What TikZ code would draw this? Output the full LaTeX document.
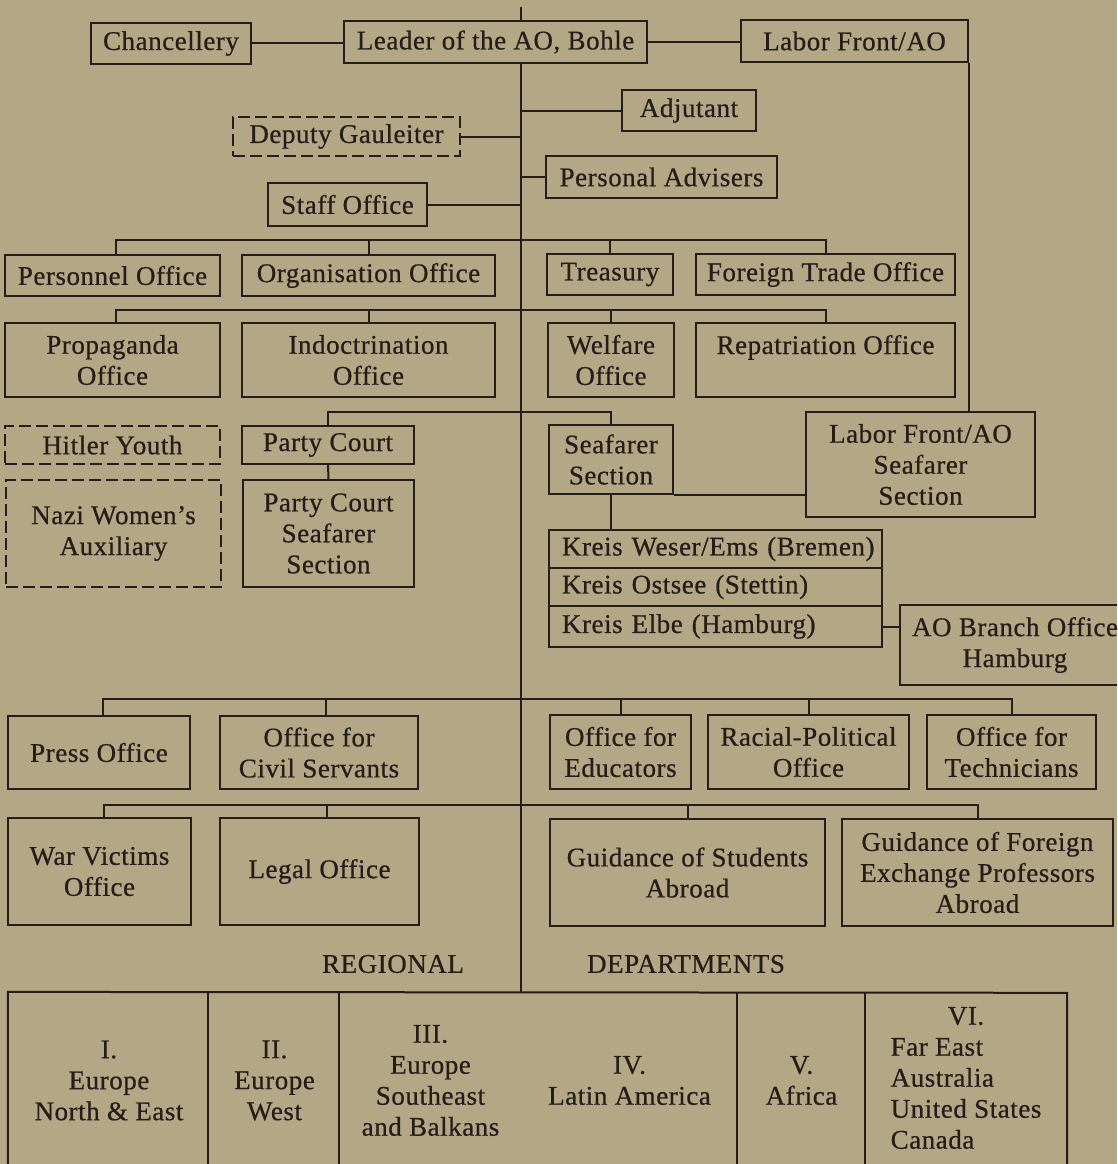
\documentclass[tikz,border=0pt]{standalone}
\usepackage{fontspec}
\setmainfont{Liberation Serif}[LetterSpace=2.0,FakeBold=0.6]
\definecolor{bg}{RGB}{180,167,133}
\definecolor{ink}{RGB}{38,28,24}
\tikzset{
  bx/.style={draw=ink, line width=2.2pt, inner sep=0pt, align=center, text=ink},
  dbx/.style={bx, dash pattern=on 12pt off 5pt},
  kb/.style={bx, text width=307pt, align=left},
  cell/.style={draw=none, inner sep=0pt, text=ink},
  conn/.style={draw=ink, line width=2pt},
  lbl/.style={text=ink, inner sep=0pt},
}
\newcommand\BX[7][]{\node[bx,#1,minimum width={#5-#3},minimum height={#6-#4}] (#2) at ({(#3+#5)/2},{(#4+#6)/2}) {#7};}
\begin{document}
\begin{tikzpicture}[x=1pt,y=-1pt, every node/.style={font=\fontsize{27}{31}\selectfont}]
\path[use as bounding box] (0,0) rectangle (1117,1164);
\fill[bg] (0,0) rectangle (1117,1164);
\clip (0,0) rectangle (1117,1164);

% top rows
\BX{chan}{91}{23}{251}{64}{Chancellery}
\BX{leader}{344}{21}{647}{63}{Leader of the AO, Bohle}
\BX{lf}{741}{20}{968}{62}{Labor Front/AO}
\BX{adj}{622}{90}{756}{131}{Adjutant}
\BX[dbx]{dep}{233}{117}{460}{156}{Deputy Gauleiter}
\BX{pa}{546}{156}{777}{198}{Personal Advisers}
\BX{staff}{268}{183}{427}{226}{Staff Office}

\BX{pers}{5}{255}{220}{296}{Personnel Office}
\BX{org}{242}{255}{495}{296}{Organisation Office}
\BX{tre}{547}{254}{673}{295}{Treasury}
\BX{fto}{696}{254}{955}{295}{Foreign Trade Office}

\BX{prop}{5}{323}{220}{397}{Propaganda\\Office}
\BX{ind}{242}{323}{495}{397}{Indoctrination\\Office}
\BX{wel}{548}{323}{674}{397}{Welfare\\Office}
\BX{rep}{696}{323}{955}{397}{Repatriation Office\\\mbox{}}

\BX[dbx]{hy}{5}{426}{220}{464}{Hitler Youth}
\BX[dbx]{nwa}{6}{480}{221}{587}{Nazi Women's\\Auxiliary}
\BX{pc}{242}{426}{414}{464}{Party Court}
\BX{pcs}{243}{480}{414}{587}{Party Court\\Seafarer\\Section}
\BX{sea}{549}{425}{673}{494}{Seafarer\\Section}
\BX{lfs}{806}{412}{1035}{517}{Labor Front/AO\\Seafarer\\Section}

\BX[kb]{k1}{549}{530}{882}{568}{\mbox{Kreis Weser/Ems (Bremen)}}
\BX[kb]{k2}{549}{568}{882}{606}{\mbox{Kreis Ostsee (Stettin)}}
\BX[kb]{k3}{549}{606}{882}{647}{\mbox{Kreis Elbe (Hamburg)}}
\BX{ao}{900}{605}{1130}{685}{AO Branch Office\\Hamburg}

\BX{press}{8}{716}{190}{789}{Press Office}
\BX{civ}{220}{716}{418}{789}{Office for\\Civil Servants}
\BX{edu}{550}{715}{691}{789}{Office for\\Educators}
\BX{rac}{708}{715}{909}{789}{Racial-Political\\Office}
\BX{tech}{927}{715}{1096}{789}{Office for\\Technicians}

\BX{war}{8}{818}{191}{925}{War Victims\\Office}
\BX{legal}{220}{818}{419}{925}{Legal Office}
\BX{stu}{550}{819}{825}{926}{Guidance of Students\\Abroad}
\BX{gfp}{842}{819}{1113}{926}{Guidance of Foreign\\Exchange Professors\\Abroad}

\node[lbl] (reg) at (393,964) {REGIONAL};
\node[lbl] (dept) at (686,964) {DEPARTMENTS};

% table cells
\BX[cell,align=center]{t1}{9}{993}{209}{1168}{I.\\Europe\\North \& East}
\BX[cell,align=center]{t2}{209}{993}{340}{1168}{II.\\Europe\\West}
\BX[cell,align=center]{t3}{340}{993}{521}{1168}{III.\\Europe\\Southeast\\and Balkans}
\BX[cell,align=center]{t4}{521}{993}{738}{1168}{IV.\\Latin America}
\BX[cell,align=center]{t5}{738}{993}{865}{1168}{V.\\Africa}
\node[cell,minimum width=202,minimum height=175] (t6) at (966,1080.5)
  {\begin{tabular}{@{}l@{}}\multicolumn{1}{@{}c@{}}{VI.}\\Far East\\Australia\\United States\\Canada\end{tabular}};

% connectors
\coordinate (top) at (521,7);
\draw[conn] (top) -- (top |- leader.north);
\draw[conn] (top |- leader.south) -- (top |- t4.north);
\draw[conn] (chan.east) -- (chan.east -| leader.west);
\draw[conn] (leader.east) -- (leader.east -| lf.west);
\draw[conn] (lf.south east) -- (lf.south east |- lfs.north);
\draw[conn] (top |- adj.west) -- (adj.west);
\draw[conn] (dep.east) -- (dep.east -| top);
\draw[conn] (top |- pa.west) -- (pa.west);
\draw[conn] (staff.east) -- (staff.east -| top);

\coordinate (b1) at (0,240);
\draw[conn] ([xshift=3pt]pers.north) |- (b1 -| fto.north) -- (fto.north);
\draw[conn] (org.north) -- (org.north |- b1);
\draw[conn] (tre.north) -- (tre.north |- b1);

\coordinate (b2) at (0,310);
\draw[conn] ([xshift=3pt]prop.north) |- (b2 -| rep.north) -- (rep.north);
\draw[conn] (ind.north) -- (ind.north |- b2);
\draw[conn] (wel.north) -- (wel.north |- b2);

\coordinate (b3) at (0,412);
\draw[conn] (pc.north) |- (b3 -| sea.north) -- (sea.north);
\draw[conn] (pc.south) -- (pcs.north);
\draw[conn] (sea.south) -- (sea.south |- k1.north);
\draw[conn] (sea.south east) -- (sea.south east -| lfs.west);
\draw[conn] (k3.east) -- (k3.east -| ao.west);

\coordinate (b4) at (0,699);
\draw[conn] ([xshift=4pt]press.north) |- (b4 -| tech.north) -- (tech.north);
\draw[conn] ([xshift=7pt]civ.north) -- ([xshift=7pt]civ.north |- b4);
\draw[conn] (edu.north) -- (edu.north |- b4);
\draw[conn] (rac.north) -- (rac.north |- b4);

\coordinate (b5) at (0,805);
\draw[conn] ([xshift=4pt]war.north) |- (b5 -| gfp.north) -- (gfp.north);
\draw[conn] ([xshift=7pt]legal.north) -- ([xshift=7pt]legal.north |- b5);
\draw[conn] (stu.north) -- (stu.north |- b5);

% table grid
\draw[conn] (t1.south west) -- (t1.north west) -- (t6.north east) -- (t6.south east);
\draw[conn] (t2.north west) -- (t2.south west);
\draw[conn] (t3.north west) -- (t3.south west);
\draw[conn] (t5.north west) -- (t5.south west);
\draw[conn] (t6.north west) -- (t6.south west);
\end{tikzpicture}
\end{document}
